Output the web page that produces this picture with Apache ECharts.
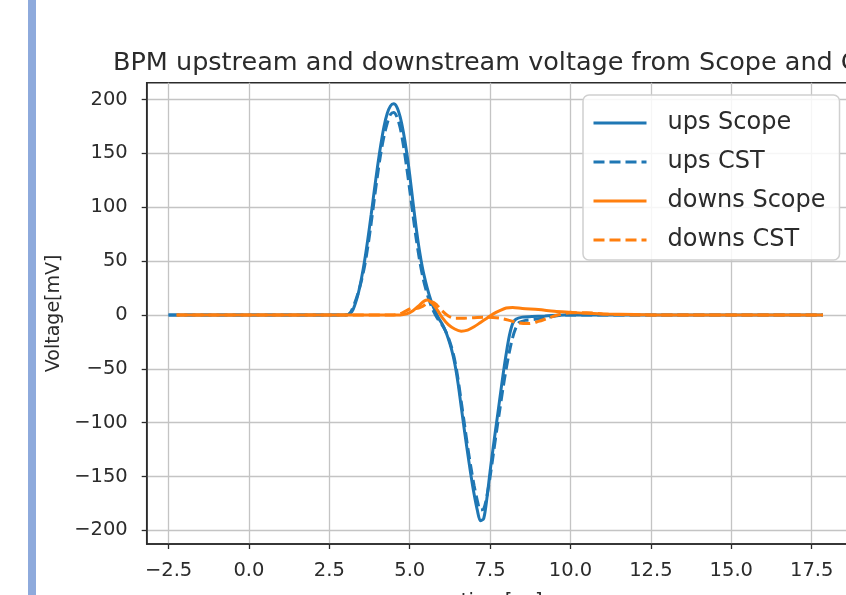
<!DOCTYPE html>
<html><head><meta charset="utf-8">
<script src="https://cdn.jsdelivr.net/npm/echarts@6/dist/echarts.min.js"></script>
<style>
html,body{margin:0;padding:0;background:#fff;overflow:hidden}
#chart{position:absolute;left:0;top:0;width:846px;height:595px}
#bar{position:absolute;left:28px;top:0;width:8px;height:595px;background:#8eaadc}
</style>
</head><body>
<div id="chart"></div><div id="bar"></div>
<script>
const titleText = 'BPM upstream and downstream voltage from Scope and CST';
const xAxisName = 'time[ns]';
const yAxisName = 'Voltage[mV]';
const seriesNames = ['ups Scope', 'ups CST', 'downs Scope', 'downs CST'];
const xTickValues = [-2.5, 0, 2.5, 5, 7.5, 10, 12.5, 15, 17.5];
const yTickValues = [-200, -150, -100, -50, 0, 50, 100, 150, 200];

const upsScopeX = [-2.5, 2.5, 3.0, 3.2, 3.3, 3.4, 3.5, 3.6, 3.7, 3.8, 3.9, 4.0, 4.1, 4.2, 4.3, 4.4, 4.5, 4.6, 4.7, 4.8, 4.9, 5.0, 5.1, 5.2, 5.3, 5.4, 5.5, 5.6, 5.7, 5.8, 5.9, 6.0, 6.1, 6.2, 6.3, 6.4, 6.5, 6.6, 6.7, 6.8, 6.9, 7.0, 7.1, 7.2, 7.3, 7.4, 7.5, 7.6, 7.7, 7.8, 7.9, 8.0, 8.1, 8.2, 8.3, 8.5, 8.8, 9.2, 9.8, 12.0, 17.85];
const upsScopeY = [0, 0, 0, 3, 10, 20, 34, 51, 71, 93, 116, 138, 158, 175, 187, 194, 196, 193, 184, 170, 152, 130, 105, 81, 60, 43, 30, 19, 10, 3, -3, -8, -14, -22, -32, -45, -63, -85, -107, -128, -148, -166, -181, -191, -189, -170, -145, -122, -100, -78, -56, -36, -19, -8, -4, -2, -1.5, -1, 0, 0, 0];

const upsCstX = [-2.5, 2.5, 3.0, 3.15, 3.3, 3.4, 3.5, 3.6, 3.7, 3.8, 3.9, 4.0, 4.1, 4.2, 4.3, 4.4, 4.5, 4.6, 4.7, 4.8, 4.9, 5.0, 5.1, 5.2, 5.3, 5.4, 5.5, 5.6, 5.7, 5.8, 5.9, 6.0, 6.1, 6.2, 6.3, 6.4, 6.5, 6.6, 6.7, 6.8, 6.9, 7.0, 7.1, 7.2, 7.3, 7.4, 7.5, 7.6, 7.7, 7.8, 7.9, 8.0, 8.1, 8.2, 8.3, 8.4, 8.6, 8.9, 9.3, 9.8, 12.0, 17.85];
const upsCstY = [0, 0, 0, 2, 12, 21, 32, 46, 64, 85, 108, 130, 150, 166, 178, 186, 188, 184, 174, 158, 138, 116, 93, 71, 52, 36, 24, 14, 6, 0, -5, -9, -14, -21, -30, -42, -59, -80, -101, -122, -141, -158, -172, -181, -180, -168, -150, -129, -108, -88, -68, -50, -34, -21, -12, -7, -5, -4, -2, 0, 0, 0];

const downsScopeX = [-2.25, 4.5, 4.7, 4.9, 5.1, 5.3, 5.45, 5.55, 5.7, 5.85, 6.0, 6.2, 6.4, 6.6, 6.8, 7.0, 7.2, 7.4, 7.6, 7.8, 8.0, 8.2, 8.5, 9.0, 9.5, 10.0, 10.5, 11.0, 12.0, 13.0, 17.85];
const downsScopeY = [0, 0, 0, 1, 4, 9, 13, 14, 11, 5, -2, -9, -13, -15, -14, -11, -7, -3, 1, 4, 6.5, 7, 6, 5, 3.5, 2.5, 1.5, 1, 0.5, 0, 0];

const downsCstX = [-2.25, 4.3, 4.5, 4.7, 4.9, 5.05, 5.2, 5.4, 5.55, 5.7, 5.85, 6.0, 6.2, 6.4, 6.7, 7.0, 7.4, 7.8, 8.1, 8.4, 8.7, 9.0, 9.3, 9.6, 10.0, 10.5, 11.0, 12.0, 17.85];
const downsCstY = [0, 0, 0, 1, 4, 6, 6, 8, 11, 12, 9, 4, -1, -3, -3, -2.5, -2, -3, -5, -7.5, -8, -6, -3, 0, 2, 2, 1, 0, 0];

const BLUE = '#1f77b4', ORANGE = '#ff7f0e';
const FONT = 'DejaVu Sans';
const TXT = '#2b2b2b';
const zip = (xs, ys) => xs.map((x, i) => [x, ys[i]]);
const minus = s => s.replace('-', '\u2212');

const chart = echarts.init(document.getElementById('chart'), null, {renderer: 'canvas'});
const mk = (name, xs, ys, color, dashed, z) => ({
  name, type: 'line', data: zip(xs, ys), symbol: 'none', showSymbol: false,
  smooth: 0.3, z,
  lineStyle: {color, width: 3, type: dashed ? [11, 5] : 'solid'},
  itemStyle: {color}, emphasis: {disabled: true}
});

chart.setOption({
  animation: false,
  backgroundColor: '#fff',
  title: {
    text: titleText, left: 496.7, top: 45, textAlign: 'center',
    textStyle: {fontFamily: FONT, fontSize: 25.5, fontWeight: 'normal', color: TXT}
  },
  legend: {
    orient: 'vertical', left: 583, top: 95,
    data: seriesNames,
    itemWidth: 53, itemHeight: 30, itemGap: 15,
    padding: [16, 14, 8, 9],
    backgroundColor: 'rgba(255,255,255,0.85)', borderColor: '#d0d0d0', borderWidth: 1.5, borderRadius: 6,
    itemStyle: {opacity: 0},
    lineStyle: {width: 3},
    textStyle: {fontFamily: FONT, fontSize: 24, color: TXT, padding: [0, 0, 0, 16]}
  },
  grid: {left: 146.7, top: 82.7, width: 710, height: 461.3, outerBoundsMode: 'none', containLabel: false, show: true, borderColor: '#2b2b2b', borderWidth: 1.5, backgroundColor: 'transparent'},
  xAxis: {
    type: 'value', min: -3.18, max: 18.9, interval: 2.5,
    axisLine: {show: true, onZero: false, lineStyle: {color: '#2b2b2b', width: 1.5}},
    axisTick: {show: true, length: 5, customValues: xTickValues, lineStyle: {color: '#2b2b2b', width: 1.3}},
    axisLabel: {customValues: xTickValues, formatter: v => minus(v.toFixed(1)), fontFamily: FONT, fontSize: 19.5, color: TXT, margin: 17},
    splitLine: {show: true, lineStyle: {color: '#c4c4c4', width: 1.3}},
    name: xAxisName, nameLocation: 'middle', nameGap: 48,
    nameTextStyle: {fontFamily: FONT, fontSize: 19.5, color: TXT}
  },
  yAxis: {
    type: 'value', min: -212.6, max: 215.6, interval: 50,
    axisLine: {show: true, onZero: false, lineStyle: {color: '#2b2b2b', width: 1.5}},
    axisTick: {show: true, length: 5, customValues: yTickValues, lineStyle: {color: '#2b2b2b', width: 1.3}},
    axisLabel: {customValues: yTickValues, formatter: v => minus(String(v)), fontFamily: FONT, fontSize: 19.5, color: TXT, margin: 19},
    splitLine: {show: true, lineStyle: {color: '#c4c4c4', width: 1.3}},
    name: yAxisName, nameLocation: 'middle', nameGap: 80,
    nameTextStyle: {fontFamily: FONT, fontSize: 19, color: TXT}
  },
  series: [
    mk(seriesNames[0], upsScopeX, upsScopeY, BLUE, false, 2),
    mk(seriesNames[1], upsCstX, upsCstY, BLUE, true, 3),
    mk(seriesNames[2], downsScopeX, downsScopeY, ORANGE, false, 4),
    mk(seriesNames[3], downsCstX, downsCstY, ORANGE, true, 5)
  ]
});
</script>
</body></html>
